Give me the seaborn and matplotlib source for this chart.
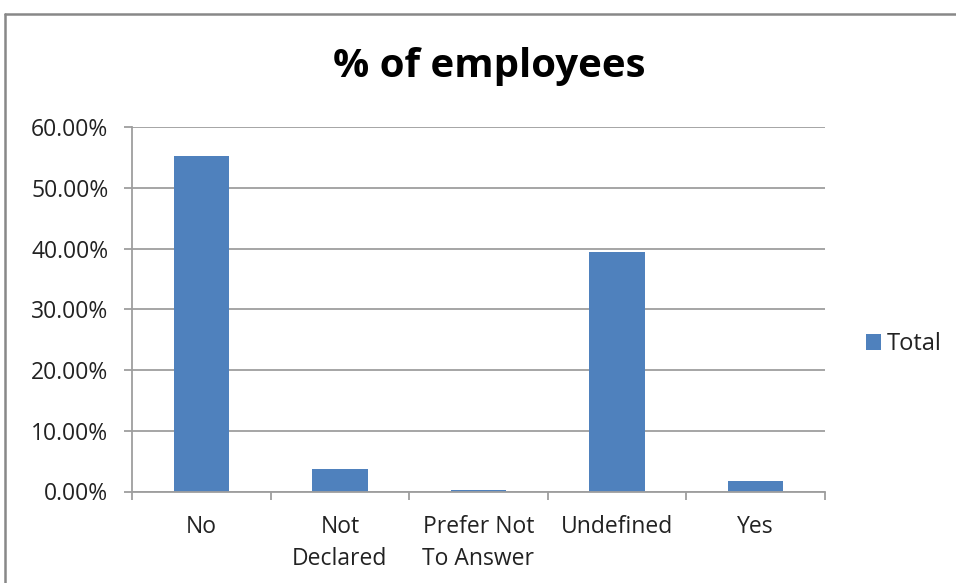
import matplotlib
matplotlib.use("Agg")
import matplotlib.pyplot as plt
from matplotlib.lines import Line2D
from matplotlib.patches import Patch
from matplotlib.ticker import FuncFormatter, FixedLocator
import seaborn as sns
import pandas as pd

categories = ["No", "Not\nDeclared", "Prefer Not\nTo Answer", "Undefined", "Yes"]
values = [55.2, 3.65, 0.25, 39.5, 1.7]
series_name = "Total"
title = "% of employees"
y_ticks = [0, 10, 20, 30, 40, 50, 60]

df = pd.DataFrame({"category": categories, "value": values})

sns.set_theme(style="white")
plt.rcParams["font.family"] = ["Open Sans", "DejaVu Sans"]

bar_color = "#4F81BD"
grid_color = "#9E9E9E"
text_color = "#222222"

fig = plt.figure(figsize=(9.56, 5.83), dpi=100)
fig.patch.set_facecolor("white")
W, H = 956, 583
ax = fig.add_axes([132 / W, 1 - 491.5 / H, (825 - 132) / W, (491.5 - 127) / H])

sns.barplot(data=df, x="category", y="value", color=bar_color, width=0.4,
            saturation=1, ax=ax, edgecolor="none")

ax.set_ylim(0, 60)
ax.set_xlim(-0.5, len(categories) - 0.5)
ax.yaxis.set_major_locator(FixedLocator(y_ticks))
ax.yaxis.set_major_formatter(FuncFormatter(lambda v, _: f"{v:.2f}%"))
ax.yaxis.grid(True, color=grid_color, linewidth=1.3)
ax.set_axisbelow(True)
ax.set_xlabel("")
ax.set_ylabel("")

for side in ["top", "right"]:
    ax.spines[side].set_visible(False)
for side in ["left", "bottom"]:
    ax.spines[side].set_color(grid_color)
    ax.spines[side].set_linewidth(1.3)

ax.tick_params(axis="y", which="major", length=6, width=1.3, color=grid_color,
               direction="out", labelsize=16.5, labelcolor=text_color, pad=11, left=True)
ax.tick_params(axis="x", which="major", length=0, labelsize=16.5,
               labelcolor=text_color, pad=17)
for lbl in ax.get_xticklabels():
    lbl.set_linespacing(1.45)
ax.set_xticks([i - 0.5 for i in range(len(categories) + 1)], minor=True)
ax.tick_params(axis="x", which="minor", length=6, width=1.3, color=grid_color,
               direction="out", bottom=True)

fig.text(489 / W, 1 - 67 / H, title, ha="center", va="center",
         fontsize=29, fontweight="bold", color="black")

handles = [Patch(facecolor=bar_color, edgecolor="none", label=series_name)]
leg = fig.legend(handles=handles, loc="center left",
                 bbox_to_anchor=(866 / W, 1 - 344 / H), frameon=False,
                 fontsize=17, handlelength=0.64, handleheight=0.64,
                 handletextpad=0.22, borderpad=0, borderaxespad=0,
                 labelcolor=text_color)

# chart area frame (left and top edges visible)
fig.add_artist(Line2D([5 / W, 5 / W], [0, 1 - 14 / H], color="#888888",
                      linewidth=1.8, transform=fig.transFigure))
fig.add_artist(Line2D([5 / W, 1], [1 - 14 / H, 1 - 14 / H], color="#888888",
                      linewidth=1.8, transform=fig.transFigure))

fig.savefig("out.png", dpi=100, facecolor="white")
